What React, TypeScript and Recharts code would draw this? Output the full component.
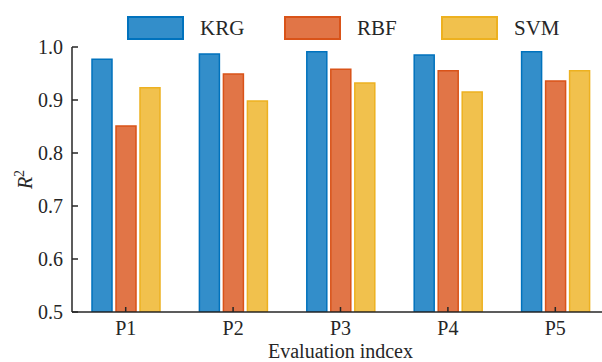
import React from "react";
import { BarChart, Bar, XAxis, YAxis } from "recharts";

const categories = ["P1", "P2", "P3", "P4", "P5"];
const krg = [0.977, 0.987, 0.991, 0.985, 0.991];
const rbf = [0.851, 0.949, 0.958, 0.955, 0.936];
const svm = [0.923, 0.898, 0.932, 0.915, 0.955];
const yTicks = [0.5, 0.6, 0.7, 0.8, 0.9, 1.0];

const series = [
  { key: "KRG", values: krg, fill: "#338ECA", stroke: "#0072BD" },
  { key: "RBF", values: rbf, fill: "#E17547", stroke: "#D95319" },
  { key: "SVM", values: svm, fill: "#F1C14D", stroke: "#EDB120" },
];

const data = categories.map((name, i) => ({
  name,
  KRG: krg[i],
  RBF: rbf[i],
  SVM: svm[i],
}));

const FONT = "Liberation Serif";
const INK = "#262626";

function YLabel(props: any) {
  const vb = props.viewBox || {};
  const x = 32;
  const y = (vb.y ?? 47) + (vb.height ?? 265) / 2;
  return (
    <text
      x={x}
      y={y}
      transform={`rotate(-90, ${x}, ${y})`}
      textAnchor="middle"
      fontFamily={FONT}
      fontSize={20}
      fill={INK}
    >
      <tspan fontStyle="italic" fontFamily={FONT}>R</tspan>
      <tspan fontSize={14} fontFamily={FONT} dy={-8}>2</tspan>
    </text>
  );
}

export default function App() {
  return (
    <div
      style={{
        position: "fixed",
        left: 0,
        top: 0,
        width: 602,
        height: 362,
        overflow: "hidden",
        background: "#fff",
        fontFamily: FONT,
      }}
    >
      <div
        style={{
          position: "absolute",
          left: 127,
          top: 16,
          height: 24,
          display: "flex",
          zIndex: 2,
        }}
      >
        {series.map((s) => (
          <div
            key={s.key}
            style={{ width: 157, display: "flex", alignItems: "center", height: 24 }}
          >
            <div
              style={{
                width: 53,
                height: 20,
                background: s.fill,
                border: `2px solid ${s.stroke}`,
              }}
            />
            <span style={{ marginLeft: 16, fontSize: 21, color: INK, lineHeight: "24px" }}>
              {s.key}
            </span>
          </div>
        ))}
      </div>
      <BarChart
        width={609}
        height={362}
        data={data}
        margin={{ top: 47, right: 0, bottom: 0, left: 0 }}
        barSize={20}
        barGap={4}
      >
        <XAxis
          dataKey="name"
          height={50}
          tickSize={-5}
          tickMargin={14}
          axisLine={{ stroke: INK, strokeWidth: 1.5 }}
          tickLine={{ stroke: INK, strokeWidth: 1.5 }}
          tick={{ fill: INK, fontSize: 20, fontFamily: FONT }}
          label={{
            value: "Evaluation indcex",
            position: "insideBottom",
            offset: 4,
            fill: INK,
            fontSize: 20,
            fontFamily: FONT,
          }}
        />
        <XAxis
          xAxisId="top"
          dataKey="name"
          orientation="top"
          height={0}
          tickSize={-5}
          tickFormatter={() => ""}
          axisLine={{ stroke: INK, strokeWidth: 1.5 }}
          tickLine={{ stroke: INK, strokeWidth: 1.5 }}
        />
        <YAxis
          width={72}
          domain={[0.5, 1]}
          ticks={yTicks}
          allowDataOverflow
          tickSize={-6}
          tickMargin={15}
          tickFormatter={(v: number) => v.toFixed(1)}
          axisLine={{ stroke: INK, strokeWidth: 1.5 }}
          tickLine={{ stroke: INK, strokeWidth: 1.5 }}
          tick={{ fill: INK, fontSize: 20, fontFamily: FONT }}
          label={<YLabel />}
        />
        {series.map((s) => (
          <Bar
            key={s.key}
            dataKey={s.key}
            fill={s.fill}
            stroke={s.stroke}
            strokeWidth={1.5}
            isAnimationActive={false}
          />
        ))}
      </BarChart>
    </div>
  );
}
